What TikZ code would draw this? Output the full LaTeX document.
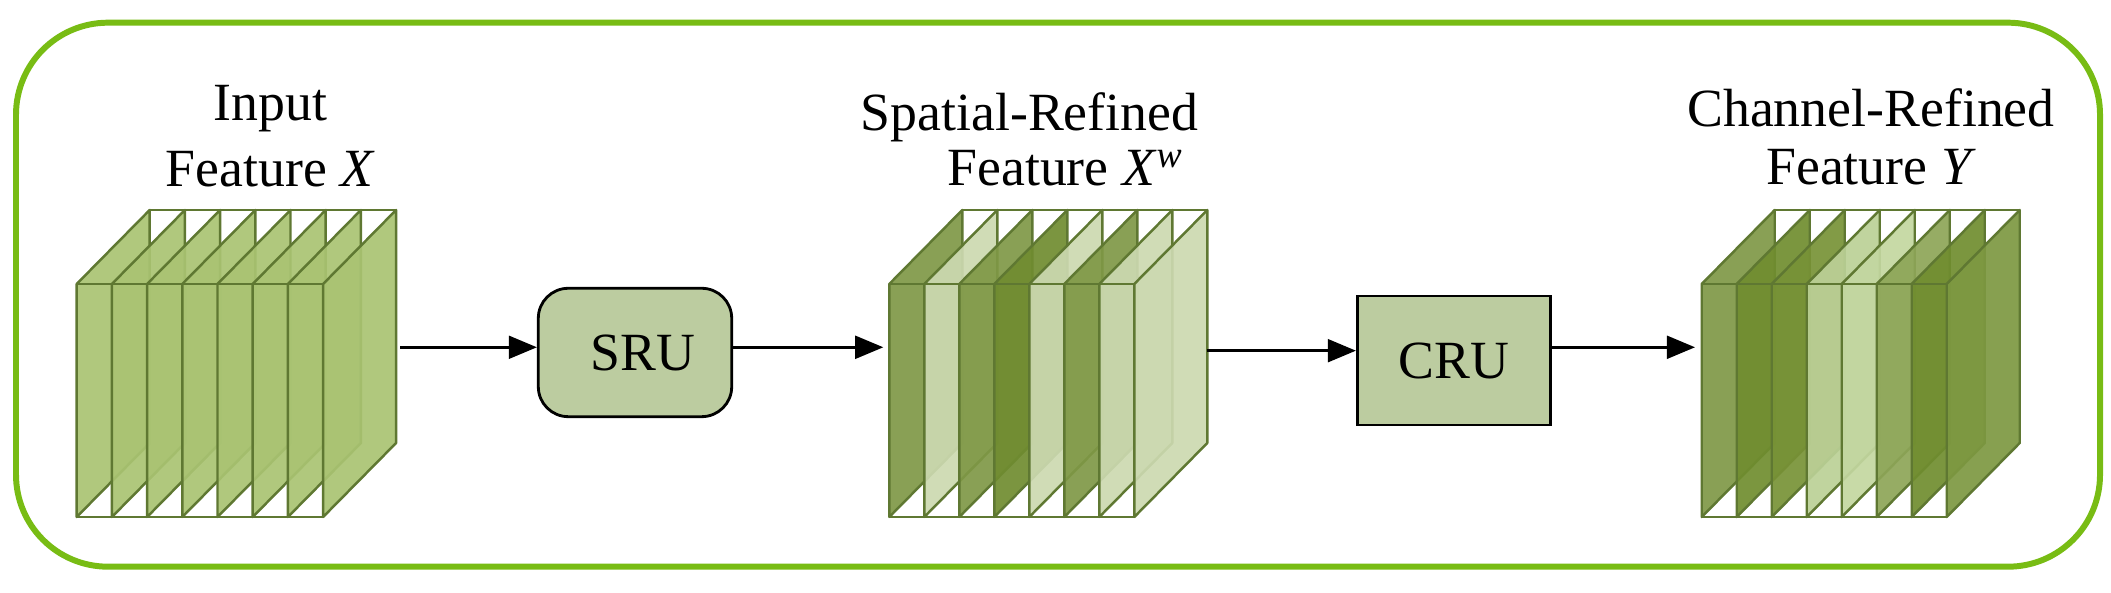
\documentclass[tikz,border=0pt]{standalone}
\usepackage{fontspec}
\setmainfont{Liberation Serif}
\usetikzlibrary{arrows.meta,positioning}

\definecolor{framegreen}{RGB}{120,188,20}
\definecolor{edgegreen}{RGB}{95,120,50}
\definecolor{unitfill}{RGB}{188,204,160}
\definecolor{inA}{RGB}{169,195,114}
\definecolor{midDark}{RGB}{127,152,70}
\definecolor{midLight}{RGB}{204,217,176}
\definecolor{midDeep}{RGB}{112,140,48}
\definecolor{outDeep}{RGB}{112,141,47}
\definecolor{outMid}{RGB}{119,146,54}
\definecolor{outPale}{RGB}{187,208,150}
\definecolor{outPaler}{RGB}{195,215,160}
\definecolor{outSoft}{RGB}{141,165,87}
\definecolor{outDark}{RGB}{125,152,65}

\begin{document}
\begin{tikzpicture}[
    slab/.style={draw=edgegreen, line width=0.7pt, fill opacity=0.92, line join=round},
    rim/.style={draw=edgegreen, line width=0.7pt},
    unit/.style={draw=black, line width=0.8pt, fill=unitfill, minimum width=1.934cm,
                 minimum height=1.284cm, inner sep=0pt, font=\fontsize{15.3}{16.5}\selectfont},
    flow/.style={-{Triangle[length=8pt,width=6.5pt]}, line width=0.75pt},
    caption/.style={font=\fontsize{15.3}{16.5}\selectfont, inner sep=0pt}
  ]
  \useasboundingbox (0,0) rectangle (21.11,5.93);
  \draw[framegreen, line width=1.7pt, rounded corners=0.92cm] (0.16,0.263) rectangle (21.0,5.703);

  % input feature
  \foreach \col [count=\i from 0] in {inA,inA,inA,inA,inA,inA,inA,inA}
    \filldraw[slab, fill=\col] ({0.767+0.352*\i},0.76) -- ++(0,2.33) -- ++(0.73,0.74) -- ++(0,-2.33) -- cycle;
  \draw[rim] (0.767,3.09) -- (3.231,3.09) (1.497,3.83) -- (3.961,3.83) (0.767,0.76) -- (3.231,0.76);

  % spatial-refined feature
  \foreach \col [count=\i from 0] in {midDark,midLight,midDark,midDeep,midLight,midDark,midLight,midLight}
    \filldraw[slab, fill=\col] ({8.893+0.35*\i},0.76) -- ++(0,2.33) -- ++(0.73,0.74) -- ++(0,-2.33) -- cycle;
  \draw[rim] (8.893,3.09) -- (11.343,3.09) (9.623,3.83) -- (12.073,3.83) (8.893,0.76) -- (11.343,0.76);

  % channel-refined feature
  \foreach \col [count=\i from 0] in {midDark,outDeep,outMid,outPale,outPaler,outSoft,outDeep,outDark}
    \filldraw[slab, fill=\col] ({17.017+0.35*\i},0.76) -- ++(0,2.33) -- ++(0.73,0.74) -- ++(0,-2.33) -- cycle;
  \draw[rim] (17.017,3.09) -- (19.467,3.09) (17.747,3.83) -- (20.197,3.83) (17.017,0.76) -- (19.467,0.76);

  \node[caption, align=center, anchor=base] (inLbl) at (2.705,4.063) {Input\\[2.3pt]Feature \textit{X}};
  \node[caption, align=left, anchor=base west] (midLbl) at (8.60,4.07)
    {Spatial-Refined\\[-0.6pt]\hspace*{0.867cm}Feature \textit{X}\textsuperscript{\textit{w}}};
  \node[caption, align=center, anchor=base] (outLbl) at (18.71,4.08) {Channel-Refined\\Feature \textit{Y}};

  \node[unit, rounded corners=0.3cm] (sru) at (6.35,2.405) {\hspace*{0.16cm}SRU};
  \node[unit, minimum height=1.29cm] (cru) at (14.54,2.325) {CRU};

  \coordinate (inR)  at (4.00,2.457);
  \coordinate (midL) at (8.833,2.457);
  \coordinate (midR) at (12.067,2.423);
  \coordinate (outL) at (16.95,2.457);

  \draw[flow] (inR) -- (inR -| sru.west);
  \draw[flow] (sru.east |- midL) -- (midL);
  \draw[flow] (midR) -- (midR -| cru.west);
  \draw[flow] (cru.east |- outL) -- (outL);
\end{tikzpicture}
\end{document}
